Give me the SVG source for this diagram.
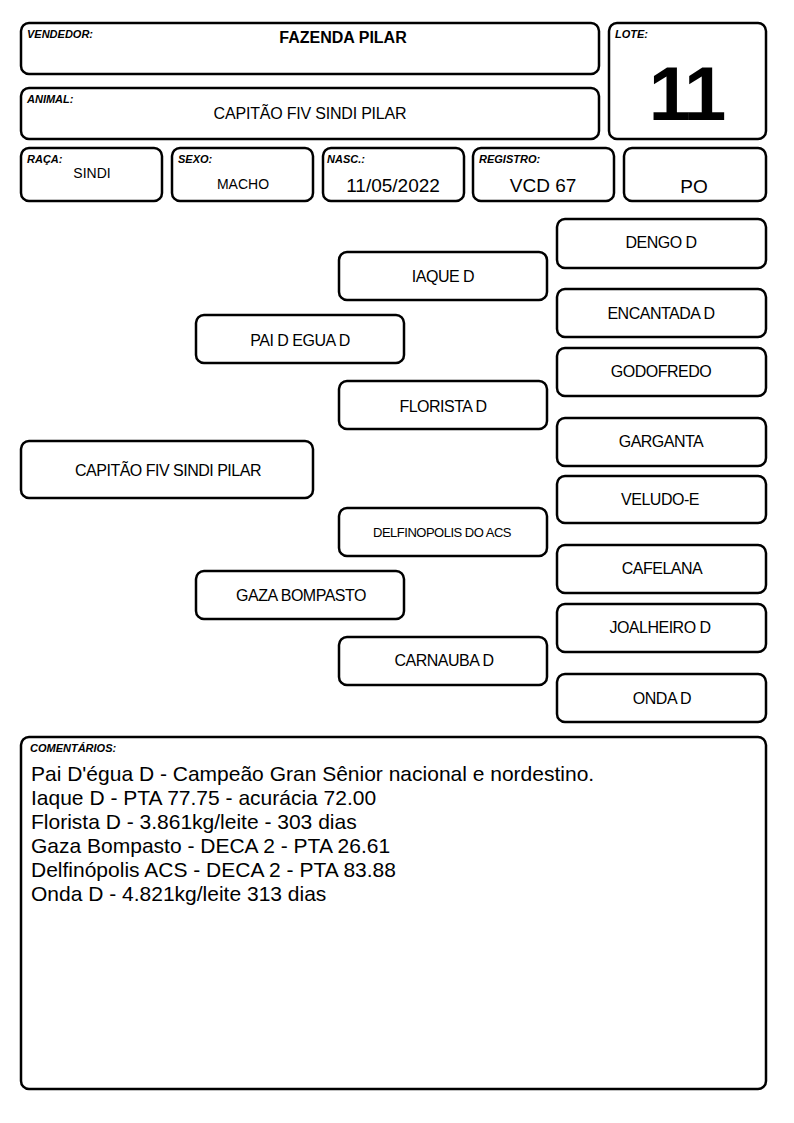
<svg xmlns="http://www.w3.org/2000/svg" width="794" height="1123" viewBox="0 0 794 1123">
<style>
.b{fill:#fff;stroke:#000;stroke-width:2.5}
.lb{font-family:"Liberation Sans",Arial,sans-serif;font-size:11px;font-weight:bold;font-style:italic;fill:#000}
.t{font-family:"Liberation Sans",Arial,sans-serif;font-size:16px;fill:#000;text-anchor:middle;letter-spacing:-0.5px}
.c{font-family:"Liberation Sans",Arial,sans-serif;font-size:21px;fill:#000}
</style>
<rect width="794" height="1123" fill="#fff"/>
<g id="vendedor"><rect class="b" x="21" y="23" width="578" height="51" rx="8"/><text class="lb" x="27" y="38">VENDEDOR:</text><text class="t" x="343" y="43" style="font-weight:bold;letter-spacing:0">FAZENDA PILAR</text></g>
<g id="lote"><rect class="b" x="609" y="23" width="157" height="116" rx="8"/><text class="lb" x="615" y="38">LOTE:</text><text x="686" y="120" style="font-family:'Liberation Sans',Arial,sans-serif;font-size:76px;font-weight:bold;text-anchor:middle;letter-spacing:-3px">11</text></g>
<g id="animal"><rect class="b" x="21" y="88" width="578" height="51" rx="8"/><text class="lb" x="27" y="103">ANIMAL:</text><text class="t" x="310" y="119" style="letter-spacing:-0.2px">CAPITÃO FIV SINDI PILAR</text></g>
<g id="raca"><rect class="b" x="21" y="148" width="141" height="53" rx="8"/><text class="lb" x="27" y="163">RAÇA:</text><text class="t" x="92" y="178" style="font-size:14px;letter-spacing:0">SINDI</text></g>
<g id="sexo"><rect class="b" x="172" y="148" width="141" height="53" rx="8"/><text class="lb" x="178" y="163">SEXO:</text><text class="t" x="243" y="189" style="font-size:14px;letter-spacing:0">MACHO</text></g>
<g id="nasc"><rect class="b" x="323" y="148" width="141" height="53" rx="8"/><text class="lb" x="327" y="163">NASC.:</text><text class="t" x="393" y="192" style="font-size:19px;letter-spacing:0">11/05/2022</text></g>
<g id="registro"><rect class="b" x="473" y="148" width="141" height="53" rx="8"/><text class="lb" x="479" y="163">REGISTRO:</text><text class="t" x="543" y="192" style="font-size:19px;letter-spacing:0">VCD 67</text></g>
<g id="po"><rect class="b" x="624" y="148" width="142" height="53" rx="8"/><text class="t" x="694" y="193" style="font-size:19px;letter-spacing:0">PO</text></g>
<g id="connectors"></g>
<g id="dengo"><rect class="b" x="557" y="219" width="209" height="49" rx="8"/><text class="t" x="661" y="248">DENGO D</text></g>
<g id="iaque"><rect class="b" x="339" y="252" width="208" height="48" rx="8"/><text class="t" x="443" y="282">IAQUE D</text></g>
<g id="encantada"><rect class="b" x="557" y="289" width="209" height="48" rx="8"/><text class="t" x="661" y="319">ENCANTADA D</text></g>
<g id="paidegua"><rect class="b" x="196" y="315" width="208" height="48" rx="8"/><text class="t" x="300" y="346">PAI D EGUA D</text></g>
<g id="godofredo"><rect class="b" x="557" y="348" width="209" height="48" rx="8"/><text class="t" x="661" y="377">GODOFREDO</text></g>
<g id="florista"><rect class="b" x="339" y="381" width="208" height="48" rx="8"/><text class="t" x="443" y="412">FLORISTA D</text></g>
<g id="garganta"><rect class="b" x="557" y="418" width="209" height="48" rx="8"/><text class="t" x="661" y="447">GARGANTA</text></g>
<g id="capitao"><rect class="b" x="21" y="441" width="292" height="57" rx="8"/><text class="t" x="168" y="476">CAPITÃO FIV SINDI PILAR</text></g>
<g id="veludo"><rect class="b" x="557" y="476" width="209" height="47" rx="8"/><text class="t" x="660" y="505">VELUDO-E</text></g>
<g id="delfinopolis"><rect class="b" x="339" y="508" width="208" height="48" rx="8"/><text class="t" x="442" y="537" style="font-size:13px">DELFINOPOLIS DO ACS</text></g>
<g id="cafelana"><rect class="b" x="557" y="545" width="209" height="48" rx="8"/><text class="t" x="662" y="574">CAFELANA</text></g>
<g id="gaza"><rect class="b" x="196" y="571" width="208" height="48" rx="8"/><text class="t" x="301" y="601">GAZA BOMPASTO</text></g>
<g id="joalheiro"><rect class="b" x="557" y="604" width="209" height="48" rx="8"/><text class="t" x="660" y="633">JOALHEIRO D</text></g>
<g id="carnauba"><rect class="b" x="339" y="637" width="208" height="48" rx="8"/><text class="t" x="444" y="666">CARNAUBA D</text></g>
<g id="onda"><rect class="b" x="557" y="674" width="209" height="48" rx="8"/><text class="t" x="662" y="704">ONDA D</text></g>
<g id="comentarios"><rect class="b" x="21" y="737" width="745" height="352" rx="8"/><text class="lb" x="30" y="752">COMENTÁRIOS:</text>
<text class="c" x="31" y="781">Pai D'égua D - Campeão Gran Sênior nacional e nordestino.</text>
<text class="c" x="31" y="805">Iaque D - PTA 77.75 - acurácia 72.00</text>
<text class="c" x="31" y="829">Florista D - 3.861kg/leite - 303 dias</text>
<text class="c" x="31" y="853">Gaza Bompasto - DECA 2 - PTA 26.61</text>
<text class="c" x="31" y="877">Delfinópolis ACS - DECA 2 - PTA 83.88</text>
<text class="c" x="31" y="901">Onda D - 4.821kg/leite 313 dias</text>
</g>
</svg>
